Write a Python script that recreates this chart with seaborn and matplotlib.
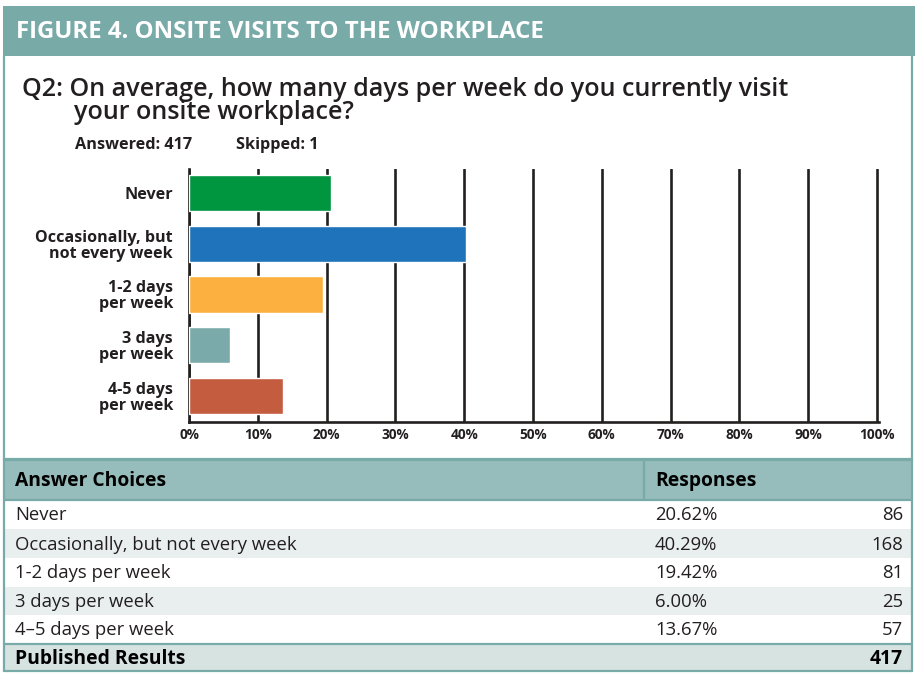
import matplotlib
matplotlib.use("Agg")
import matplotlib.pyplot as plt
import seaborn as sns
import pandas as pd
from matplotlib.patches import Rectangle

# ---------------- data ----------------
categories = ["Never", "Occasionally, but\nnot every week", "1-2 days\nper week",
              "3 days\nper week", "4-5 days\nper week"]
table_labels = ["Never", "Occasionally, but not every week", "1-2 days per week",
                "3 days per week", "4–5 days per week"]
percents = [20.62, 40.29, 19.42, 6.00, 13.67]
counts = [86, 168, 81, 25, 57]
bar_colors = ["#00953f", "#1f73bb", "#fbb040", "#7aabaa", "#c45c40"]
x_ticks = list(range(0, 101, 10))
x_tick_labels = [f"{t}%" for t in x_ticks]
answered = 417
skipped = 1
total = 417

title = "FIGURE 4. ONSITE VISITS TO THE WORKPLACE"
question_1 = "Q2: On average, how many days per week do you currently visit"
question_2 = "your onsite workplace?"

# ---------------- style ----------------
sns.set_theme(style="white")
plt.rcParams["font.family"] = ["Open Sans", "DejaVu Sans"]

TEAL = "#78aaa8"
TEXT = "#231f20"

W, H = 915, 673
fig = plt.figure(figsize=(W / 100, H / 100), dpi=100)
fig.patch.set_facecolor("white")
renderer = fig.canvas.get_renderer()

bg = fig.add_axes([0, 0, 1, 1], zorder=0)
bg.set_xlim(0, W)
bg.set_ylim(H, 0)
bg.axis("off")


def fit(t, width):
    bb = t.get_window_extent(renderer)
    t.set_fontsize(t.get_fontsize() * width / bb.width)
    return t.get_fontsize()


def width_of(s, **kw):
    p = bg.text(0, 0, s, **kw)
    w = p.get_window_extent(renderer).width
    p.remove()
    return w


def rect(x0, y0, x1, y1, color, **kw):
    bg.add_patch(Rectangle((x0, y0), x1 - x0, y1 - y0, facecolor=color,
                           edgecolor="none", **kw))


# header band
rect(3, 6, 915, 56, TEAL)
t = bg.text(16, 32, title, color="white", fontweight="bold", va="center", ha="left", fontsize=14)
fit(t, 531)

# white panel borders
bg.plot([4, 4], [56, 460], color=TEAL, lw=1.6, solid_capstyle="butt")
bg.plot([912, 912], [56, 460], color=TEAL, lw=1.6, solid_capstyle="butt")
bg.plot([4, 912], [459, 459], color=TEAL, lw=1.6)

# question (one text block, second line indented under "On")
probe = bg.text(0, 0, question_1, fontsize=16, fontweight="semibold")
qfs = fit(probe, 768)
probe.remove()
qkw = dict(fontsize=qfs, fontweight="semibold")
space_w = width_of("a a", **qkw) - width_of("aa", **qkw)
n_sp = int(round(53 / space_w))
bg.text(22, 77, question_1 + "\n" + " " * n_sp + question_2, color=TEXT, va="top",
        ha="left", linespacing=0.88, **qkw)

t = bg.text(75, 145, f"Answered: {answered}", color=TEXT, va="center", ha="left",
            fontsize=9, fontweight="bold")
fs2 = fit(t, 117)
bg.text(236, 145, f"Skipped: {skipped}", color=TEXT, va="center", ha="left",
        fontsize=fs2, fontweight="bold")

# ---------------- chart ----------------
ax_l, ax_r, ax_t, ax_b = 189, 879, 169, 422
ax = fig.add_axes([ax_l / W, 1 - ax_b / H, (ax_r - ax_l) / W, (ax_b - ax_t) / H], zorder=2)
df = pd.DataFrame({"category": categories, "percent": percents})
sns.barplot(data=df, x="percent", y="category", hue="category", palette=bar_colors,
            orient="h", width=0.71, saturation=1, legend=False, ax=ax, zorder=3)
ax.set_facecolor("none")
ax.set_xlim(0, 100 * (ax_r - ax_l) / (877 - ax_l))
ax.set_ylim(4.51, -0.47)
ax.set_xticks(x_ticks)
ax.set_xticklabels(x_tick_labels, fontweight="bold", fontsize=9.8, color=TEXT)
ax.set_axisbelow(True)
ax.grid(axis="x", color=TEXT, linewidth=1.9)
ax.grid(axis="y", visible=False)
for s in ["top", "right"]:
    ax.spines[s].set_visible(False)
for s in ["left", "bottom"]:
    ax.spines[s].set_color(TEXT)
    ax.spines[s].set_linewidth(1.9)
ax.tick_params(axis="x", length=0, pad=4.5)
ax.tick_params(axis="y", length=0, pad=11.5)
ax.set_xlabel("")
ax.set_ylabel("")
probe = bg.text(0, 0, "Occasionally, but", fontweight="bold", fontsize=10)
ysz = fit(probe, 138)
probe.remove()
for lbl in ax.get_yticklabels():
    lbl.set_fontweight("bold")
    lbl.set_color(TEXT)
    lbl.set_linespacing(1.0)
    lbl.set_multialignment("right")
    lbl.set_fontsize(ysz)

# ---------------- table ----------------
row_tops = [500, 529, 558, 587, 615]
row_bots = [529, 558, 587, 615, 643]
row_fill = ["white", "#e9efef", "white", "#e9efef", "white"]

rect(4, 461, 912, 499, "#96bcbb")
for y0, y1, c in zip(row_tops, row_bots, row_fill):
    rect(4, y0, 912, y1, c)
rect(4, 645, 912, 670, "#d6e3e1")

bg.plot([4, 912], [460, 460], color=TEAL, lw=1.6)
bg.plot([4, 912], [499.5, 499.5], color=TEAL, lw=1.6)
bg.plot([4, 912], [644, 644], color=TEAL, lw=1.6)
bg.plot([4, 912], [671, 671], color=TEAL, lw=1.6)
bg.plot([4, 4], [459, 672], color=TEAL, lw=1.6, solid_capstyle="butt")
bg.plot([912, 912], [459, 672], color=TEAL, lw=1.6, solid_capstyle="butt")
bg.plot([644, 644], [460, 499], color=TEAL, lw=1.6, solid_capstyle="butt")

th = bg.text(15, 481, "Answer Choices", color="black", fontweight="bold", va="center",
             ha="left", fontsize=12)
hsz = fit(th, 150)
bg.text(655, 481, "Responses", color="black", fontweight="bold", va="center",
        ha="left", fontsize=hsz)

probe = bg.text(0, 0, table_labels[1], fontsize=11)
tsz = fit(probe, 282)
probe.remove()
for lab, p, n, y0, y1 in zip(table_labels, percents, counts, row_tops, row_bots):
    yc = (y0 + y1) / 2 + 1
    bg.text(15, yc, lab, color=TEXT, va="center", ha="left", fontsize=tsz)
    bg.text(655, yc, f"{p:.2f}%", color=TEXT, va="center", ha="left", fontsize=tsz)
    bg.text(903, yc, f"{n}", color=TEXT, va="center", ha="right", fontsize=tsz)

bg.text(15, 659, "Published Results", color="black", fontweight="bold", va="center",
        ha="left", fontsize=hsz)
bg.text(903, 659, f"{total}", color="black", fontweight="bold", va="center",
        ha="right", fontsize=hsz)

fig.savefig("out.png", dpi=100, facecolor="white")
